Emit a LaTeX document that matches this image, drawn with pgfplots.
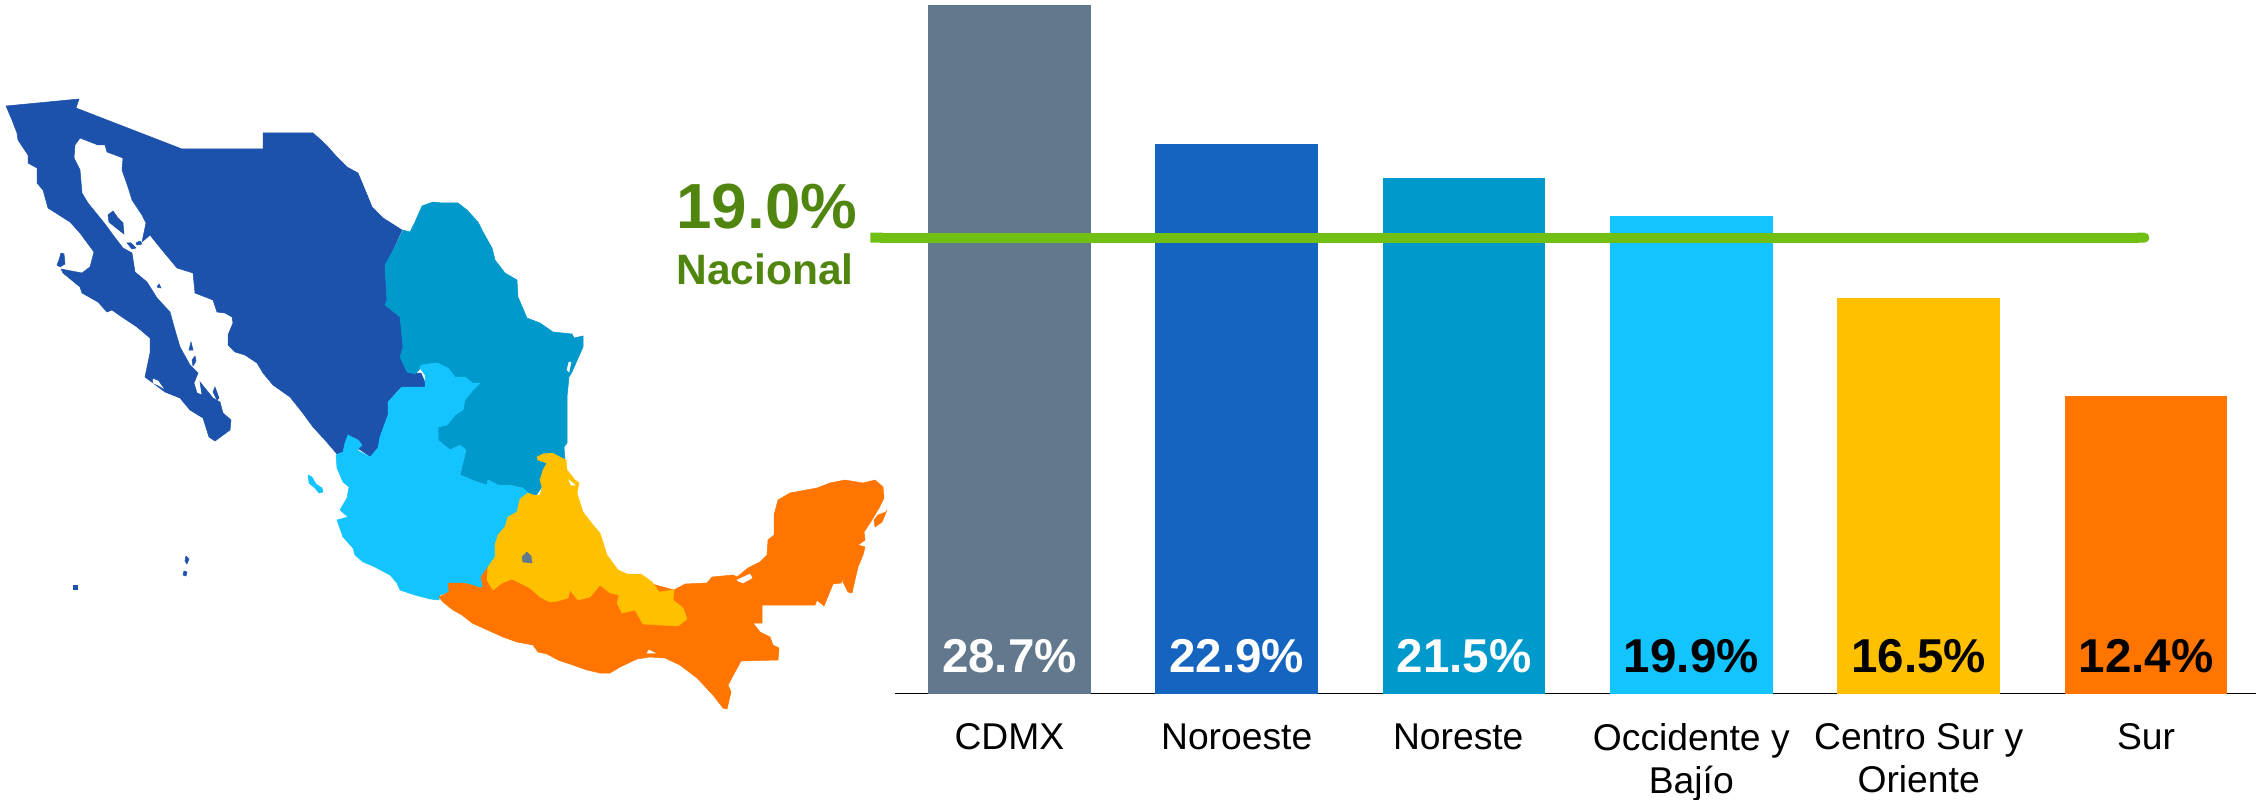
\documentclass[border=0pt]{standalone}
\usepackage{fontspec}
\setmainfont{Liberation Sans}
\usepackage{pgfplots}
\pgfplotsset{compat=1.18}
\usetikzlibrary{arrows.meta}
\definecolor{cCDMX}{RGB}{98,120,140}
\definecolor{cNO}{RGB}{21,101,192}
\definecolor{cNOmap}{RGB}{28,82,171}
\definecolor{cNE}{RGB}{0,153,204}
\definecolor{cOcc}{RGB}{20,196,255}
\definecolor{cCen}{RGB}{255,192,0}
\definecolor{cSur}{RGB}{255,117,0}
\definecolor{cLine}{RGB}{114,191,20}
\definecolor{cNac}{RGB}{80,134,15}
\pgfplotsset{
  region/.style={fill=#1, draw=#1, line width=0.2pt, mark=none, forget plot},
  barra/.style={ybar, bar shift=0pt, bar width=65pt, fill=#1, draw=none, forget plot},
  etiq/.style={only marks, mark=none, forget plot, point meta=explicit symbolic,
    nodes near coords,
    every node near coord/.style={anchor=base, yshift=8.6pt, text=#1,
      font=\fontsize{19}{20}\selectfont\bfseries}},
}
\begin{document}
\begin{tikzpicture}
\useasboundingbox (0pt,0pt) rectangle (902.4pt,319.6pt);
% mapa, en pixeles de la imagen
\begin{axis}[
  name=mapa, at={(0pt,0pt)}, anchor=south west,
  scale only axis, width=902.4pt, height=319.6pt,
  xmin=0, xmax=2256, ymin=0, ymax=799, y dir=reverse,
  hide axis, clip=false,
]
% Noroeste
\addplot[region=cNOmap] coordinates {
 (6,106)(79,99)(76,108)(182,149)(263,149)(263,133)(313,133)(321,140)(328,147)(337,157)
 (347,167)(358,173)(363,185)(368,197)(372,207)(383,218)(402,230)(393,250)(385,267)(387,303)
 (400,317)(404,350)(402,360)(408,373)(421,373)(427,387)(400,388)(388,402)(388,415)(380,437)
 (378,448)(371,457)(359,449)(337,454)(325,440)(313,427)(302,412)(290,397)(273,385)(263,373)
 (257,363)(245,355)(235,352)(228,345)(228,335)(233,323)(232,317)(225,313)(217,312)(213,300)
 (195,293)(193,273)(177,268)(162,250)(150,235)(142,242)(146,223)(142,215)(132,200)(128,187)
 (122,170)(123,158)(107,152)(105,145)(98,145)(80,138)(75,145)(74,158)(80,170)(82,193)
 (88,203)(105,224)(113,235)(123,248)(132,253)(135,272)(147,282)(157,298)(170,312)(175,330)
 (180,347)(190,365)(198,373)(194,383)(197,393)(202,395)(200,382)(213,398)(220,402)(223,413)
 (231,420)(230,430)(215,441)(209,437)(203,418)(190,410)(180,398)(165,392)(145,377)(150,353)
 (150,338)(137,327)(122,317)(112,310)(107,312)(98,302)(82,293)(80,287)(63,273)(61,269)
 (82,273)(90,267)(94,252)(80,233)(70,222)(48,208)(43,190)(37,183)(37,168)(28,163)
 (28,155)(18,140)(17,133)(12,120)} -- cycle;
\addplot[region=white] coordinates {(153,379)(158,381)(163,388)(158,385)(153,383)} -- cycle;
\addplot[region=cNOmap] coordinates {(108,215)(113,211)(118,218)(123,223)(124,234)(115,227)(109,222)} -- cycle;
\addplot[region=cNOmap] coordinates {(127,243)(131,243)(136,248)(132,249)} -- cycle;
\addplot[region=cNOmap] coordinates {(136,243)(140,241)(142,244)(137,245)} -- cycle;
\addplot[region=cNOmap] coordinates {(157,287)(159,284)(161,288)} -- cycle;
\addplot[region=cNOmap] coordinates {(61,253)(64,254)(65,264)(60,267)(57,265)(59,260)} -- cycle;
\addplot[region=cNOmap] coordinates {(189,350)(191,342)(193,350)} -- cycle;
\addplot[region=cNOmap] coordinates {(192,360)(195,356)(196,361)(193,366)} -- cycle;
\addplot[region=cNOmap] coordinates {(213,392)(215,387)(219,398)(217,400)} -- cycle;
\addplot[region=cNOmap] coordinates {(186,556)(189,559)(187,564)(185,561)} -- cycle;
\addplot[region=cNOmap] coordinates {(184,571)(187,572)(186,576)(183,575)} -- cycle;
\addplot[region=cNOmap] coordinates {(73,585)(77,585)(77,589)(73,589)} -- cycle;
% Noreste
\addplot[region=cNE] coordinates {
 (403,230)(410,232)(415,222)(422,206)(433,202)(442,203)(458,203)(467,210)(478,222)(483,232)
 (492,248)(495,260)(505,273)(517,280)(518,297)(527,318)(540,323)(553,332)(572,334)(574,338)
 (583,336)(583,347)(572,372)(569,377)(567,397)(567,413)(567,443)(564,447)(565,460)(550,475)
 (535,497)(530,495)(523,488)(510,485)(498,485)(488,480)(487,485)(477,482)(460,475)(466,450)
 (460,445)(450,450)(438,440)(438,427)(447,425)(455,415)(463,410)(465,400)(473,390)(480,383)
 (472,383)(465,377)(455,377)(448,368)(437,363)(421,365)(420,369)(415,374)(407,372)(400,357)
 (403,347)(400,317)(385,305)(387,300)(385,265)(395,247)} -- cycle;
\addplot[region=white] coordinates {(569,362)(571,362)(569,372)(567,370)} -- cycle;
% Occidente y Bajio
\addplot[region=cOcc] coordinates {
 (421,365)(437,363)(448,368)(455,377)(465,377)(472,383)(480,383)(473,390)(465,400)(463,410)
 (455,415)(447,425)(438,427)(438,440)(450,450)(460,445)(466,450)(460,475)(477,482)(487,485)
 (488,480)(498,485)(510,485)(517,487)(523,488)(530,495)(528,493)(520,499)(517,512)(508,517)
 (505,527)(498,535)(495,545)(495,557)(488,567)(481,577)(483,588)(477,587)(472,585)(463,583)
 (453,583)(448,583)(449,592)(440,595)(439,600)(430,599)(415,595)(400,590)(397,583)(390,575)
 (373,566)(363,562)(355,555)(353,548)(343,537)(337,520)(348,517)(340,510)(347,498)(349,487)
 (343,482)(337,468)(336,455)(343,452)(345,443)(348,435)(358,440)(362,445)(357,450)(370,457)
 (378,448)(380,437)(388,415)(388,402)(402,387)(425,387)(425,375)(420,368)} -- cycle;
\addplot[region=cOcc] coordinates {(308,475)(312,477)(316,484)(322,488)(323,492)(319,493)(315,488)(309,483)} -- cycle;
% Sur
\addplot[region=cSur] coordinates {
 (439,597)(449,592)(448,583)(453,583)(463,583)(472,585)(477,587)(483,588)(481,577)(488,567)
 (600,570)(674,590)(685,584)(707,583)(712,577)(733,575)(737,577)(748,568)(760,562)(767,555)
 (768,540)(774,535)(774,515)(778,500)(790,493)(817,488)(830,483)(845,480)(863,483)(875,480)
 (883,487)(884,498)(879,508)(870,523)(864,532)(865,540)(858,545)(865,547)(863,555)(858,567)
 (852,593)(848,592)(843,582)(846,573)(841,583)(833,584)(824,606)(817,600)(815,605)(762,605)
 (762,623)(753,623)(760,632)(770,637)(773,645)(779,648)(778,660)(741,661)(728,685)(731,692)
 (727,709)(723,708)(713,695)(697,678)(680,665)(665,658)(650,657)(637,659)(620,667)(610,673)
 (600,673)(587,670)(570,664)(558,660)(547,654)(538,652)(533,645)(517,642)(503,637)(472,623)
 (462,615)(453,610)(443,602)} -- cycle;
\addplot[region=cSur] coordinates {(887,510)(882,522)(875,527)(874,520)(878,515)(886,512)} -- cycle;
\addplot[region=white] coordinates {(737,580)(750,574)(752,578)(743,583)(738,581)} -- cycle;
\addplot[region=white] coordinates {(647,653)(649,650)(655,653)} -- cycle;
% Centro Sur y Oriente
\addplot[region=cCen] coordinates {
 (537,457)(543,454)(552,453)(560,457)(566,460)(567,470)(575,480)(579,483)(577,493)(583,512)
 (593,525)(600,533)(607,555)(618,570)(627,574)(641,574)(652,582)(659,592)(674,590)(673,600)
 (683,608)(687,619)(678,626)(643,624)(635,610)(622,613)(617,603)(619,595)(610,593)(600,585)
 (590,597)(578,600)(570,590)(568,598)(558,601)(550,602)(540,597)(530,588)(518,582)(512,579)
 (502,583)(493,590)(487,580)(488,567)(495,557)(495,545)(498,535)(505,527)(508,517)(517,512)
 (520,499)(528,493)(533,495)(540,495)(542,487)(540,480)(543,470)(547,463)(538,460)} -- cycle;
\addplot[region=white] coordinates {(569,480)(575,485)(571,485)} -- cycle;
% CDMX
\addplot[region=cCDMX] coordinates {(527,552)(531,556)(532,563)(523,562)(522,557)} -- cycle;
\node[anchor=base west, inner sep=0pt, text=cNac, font=\fontsize{25.5}{27}\selectfont\bfseries] at (axis cs:676,229) {19.0\%};
\node[anchor=base west, inner sep=0pt, text=cNac, font=\fontsize{17}{18}\selectfont\bfseries] at (axis cs:676,285) {Nacional};
\end{axis}
% barras
\begin{axis}[
  at={(358pt,42.16pt)}, anchor=south west,
  scale only axis, width=544.4pt, height=277.4pt,
  xmin=-0.503, xmax=5.484, ymin=0, ymax=28.9,
  axis x line=bottom, axis y line=none,
  axis line style={-, line width=0.5pt, black},
  xtick={0,1,2,3,4,5},
  xticklabels={CDMX, Noroeste, {\kern-4.6pt Noreste}, {Occidente y\\Bajío}, {Centro Sur y\\Oriente}, Sur},
  x tick label style={align=center, font=\fontsize{14.9}{17}\selectfont, yshift=-8.5pt},
  major tick length=0pt,
  clip=false,
]
\addplot[barra=cCDMX] coordinates {(0,28.7)};
\addplot[barra=cNO] coordinates {(1,22.9)};
\addplot[barra=cNE] coordinates {(2,21.5)};
\addplot[barra=cOcc] coordinates {(3,19.9)};
\addplot[barra=cCen] coordinates {(4,16.5)};
\addplot[barra=cSur] coordinates {(5,12.4)};
\addplot[etiq=white] coordinates {(0,0)[28.7\%] (1,0)[22.9\%] (2,0)[21.5\%]};
\addplot[etiq=black] coordinates {(3,0)[19.9\%] (4,0)[16.5\%] (5,0)[12.4\%]};
\addplot[cLine, line width=4pt, forget plot, {Butt Cap[]}-{Round Cap[]}] coordinates {(-0.611,19.0)(5.015,19.0)};
\end{axis}
\end{tikzpicture}
\end{document}
